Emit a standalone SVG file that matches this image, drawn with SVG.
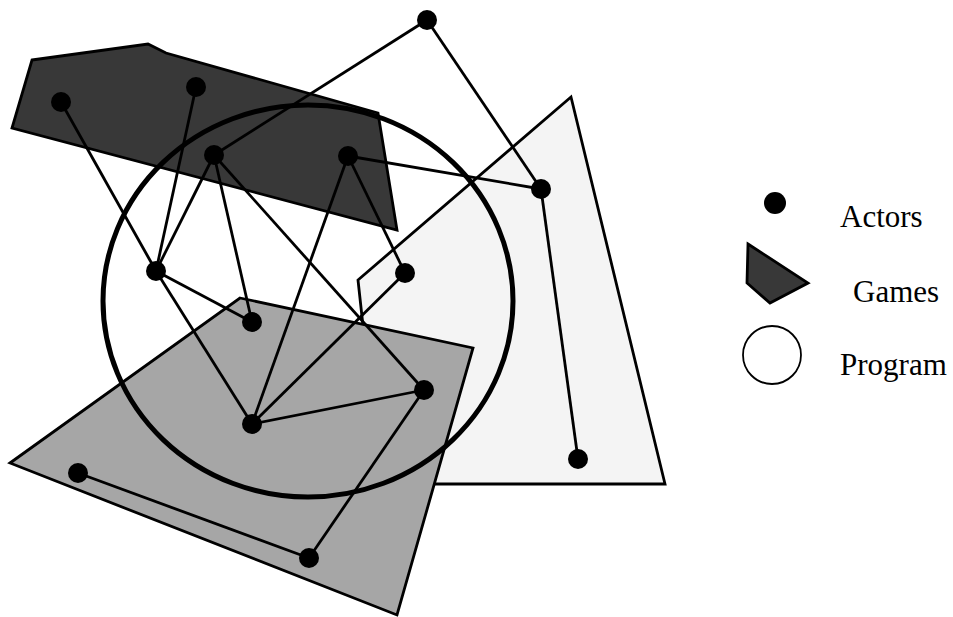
<svg xmlns="http://www.w3.org/2000/svg" width="953" height="617" viewBox="0 0 953 617">
<style>
.game{stroke:#000;stroke-width:2.8;stroke-linejoin:miter}
.dark{fill:#383838}
.mid{fill:#a6a6a6}
.light{fill:#f4f4f4}
.prog{fill:none;stroke:#000;stroke-width:5}
.edge line{stroke:#000;stroke-width:2.8}
.actor{fill:#000}
.lbl{font-family:"Liberation Serif","Times New Roman",serif;font-size:31px;fill:#000}
</style>
<rect width="953" height="617" fill="#fff"/>
<g id="game-light"><polygon class="game light" points="571,97 665,484 432,484 364,335 358,280"/></g>
<g id="game-mid"><polygon class="game mid" points="240,298 473,348 397,615 10,463"/></g>
<g id="game-dark"><polygon class="game dark" points="32,60 148,44 166,53 378,113 397,230 12,128"/></g>
<g id="program"><ellipse class="prog" cx="308" cy="301" rx="205" ry="196"/></g>
<g id="connectors" class="edge">
<line x1="61" y1="102" x2="156" y2="271"/>
<line x1="196" y1="87" x2="156" y2="271"/>
<line x1="214" y1="155" x2="156" y2="271"/>
<line x1="214" y1="155" x2="427" y2="20"/>
<line x1="214" y1="155" x2="252" y2="322"/>
<line x1="214" y1="155" x2="424" y2="390"/>
<line x1="348" y1="156" x2="541" y2="189"/>
<line x1="348" y1="156" x2="252" y2="424"/>
<line x1="348" y1="156" x2="405" y2="273"/>
<line x1="427" y1="20" x2="541" y2="189"/>
<line x1="541" y1="189" x2="578" y2="459"/>
<line x1="156" y1="271" x2="252" y2="322"/>
<line x1="156" y1="271" x2="252" y2="424"/>
<line x1="252" y1="424" x2="424" y2="390"/>
<line x1="252" y1="424" x2="405" y2="273"/>
<line x1="424" y1="390" x2="309" y2="558"/>
<line x1="78" y1="473" x2="309" y2="558"/>
</g>
<g id="a1"><circle class="actor" cx="61" cy="102" r="10"/></g>
<g id="a2"><circle class="actor" cx="196" cy="87" r="10"/></g>
<g id="a3"><circle class="actor" cx="214" cy="155" r="10"/></g>
<g id="a4"><circle class="actor" cx="348" cy="156" r="10"/></g>
<g id="a5"><circle class="actor" cx="427" cy="20" r="10"/></g>
<g id="a6"><circle class="actor" cx="541" cy="189" r="10"/></g>
<g id="a7"><circle class="actor" cx="405" cy="273" r="10"/></g>
<g id="a8"><circle class="actor" cx="156" cy="271" r="10"/></g>
<g id="a9"><circle class="actor" cx="252" cy="322" r="10"/></g>
<g id="a10"><circle class="actor" cx="252" cy="424" r="10"/></g>
<g id="a11"><circle class="actor" cx="424" cy="390" r="10"/></g>
<g id="a12"><circle class="actor" cx="78" cy="473" r="10"/></g>
<g id="a13"><circle class="actor" cx="309" cy="558" r="10"/></g>
<g id="a14"><circle class="actor" cx="578" cy="459" r="10"/></g>
<g id="legend-actors"><circle class="actor" cx="775" cy="203" r="11"/><text class="lbl" x="840" y="227">Actors</text></g>
<g id="legend-games"><polygon class="game dark" points="748,244 808,283 770,303 747,283"/><text class="lbl" x="853" y="302">Games</text></g>
<g id="legend-program"><circle cx="772" cy="355" r="29" fill="none" stroke="#000" stroke-width="1.8"/><text class="lbl" x="840" y="375">Program</text></g>
</svg>
